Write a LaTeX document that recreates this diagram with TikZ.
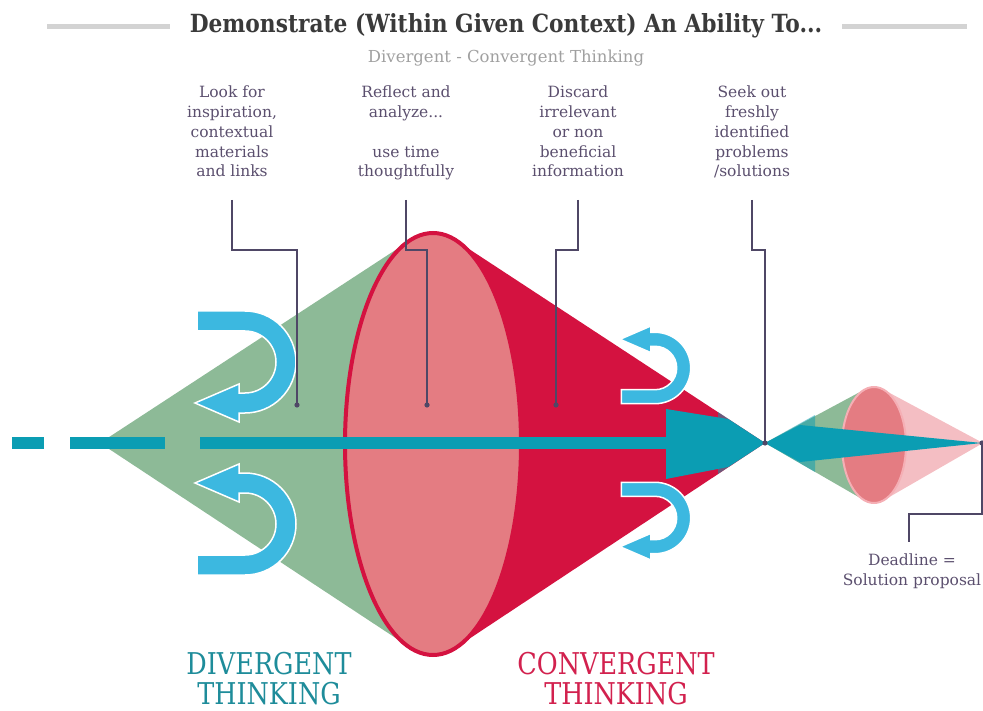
\documentclass[tikz,border=0pt]{standalone}
\usepackage{fontspec}
\setmainfont{DejaVu Serif}
\newfontfamily\narrowslab{DejaVu Serif}[FakeStretch=0.85]
\newfontfamily\headslab{DejaVu Serif}[FakeStretch=0.87]
\usepackage{tikz}
\definecolor{greencone}{HTML}{8DBA97}
\definecolor{salmon}{HTML}{E47C82}
\definecolor{crimson}{HTML}{D41240}
\definecolor{tealc}{HTML}{0B9DB3}
\definecolor{turncol}{HTML}{3CB8E0}
\definecolor{palepink}{HTML}{F4BEC3}
\definecolor{smallrim}{HTML}{F5AFB5}
\definecolor{textcol}{HTML}{5B4F6E}
\definecolor{leadcol}{HTML}{4F4766}
\definecolor{titlecol}{HTML}{3A3A3A}
\definecolor{subcol}{HTML}{A0A0A0}
\definecolor{rulecol}{HTML}{D3D3D3}
\definecolor{divcol}{HTML}{1E8C9A}
\definecolor{convcol}{HTML}{D2214E}
\tikzset{
  leader/.style={draw=leadcol, line width=1.3pt},
  toplabel/.style={font=\fontsize{15.5}{19.75}\selectfont, text=textcol, align=center,
    inner sep=0pt, text depth=23pt, anchor=south},
  bigword/.style={font=\narrowslab\fontsize{30}{30}\selectfont, align=center, inner sep=0pt,
    text depth=0pt, anchor=south},
  axisline/.style={draw=tealc, line width=12pt},
  turnarrow/.style={fill=turncol, draw=white, line width=1.5pt},
  uturn/.pic={
    \path[turnarrow] (-48,-51) -- (0,-51) arc[start angle=-90, end angle=90, radius=51]
      -- (-6,51) -- (-6,60) -- (-50,41) -- (-6,22) -- (-6,31) -- (0,31)
      arc[start angle=90, end angle=-90, radius=31] -- (-48,-31) -- cycle;
  },
}
\begin{document}
\begin{tikzpicture}[x=1pt, y=-1pt]
  \useasboundingbox (0,0) rectangle (983,711);
  %Heading
  \node[font=\headslab\fontsize{25}{28}\selectfont\bfseries, text=titlecol, inner sep=0pt, anchor=base]
    (title) at (506,33) {Demonstrate (Within Given Context) An Ability To...};
  \node[font=\fontsize{16.5}{18}\selectfont, text=subcol, inner sep=0pt, anchor=base]
    (subtitle) at (506,63) {Divergent - Convergent Thinking};
  \draw[rulecol, line width=5pt] ([xshift=-20pt]title.west) -- ++(-123,0);
  \draw[rulecol, line width=5pt] ([xshift=20pt]title.east) -- ++(125,0);
  %Big cone: red part, green part, ellipse
  \coordinate (cross) at (765,443);
  \coordinate (tip) at (982,443);
  \fill[crimson] (456,240.5) -- (cross) -- (456,647.5) -- cycle;
  \fill[greencone] (100,443) -- (410,240.5) -- (410,647.5) -- cycle;
  \filldraw[fill=salmon, draw=crimson, line width=4pt] (433,444) ellipse [x radius=88, y radius=211];
  %Small cone
  \fill[palepink] (883.4,389.6) -- (983,443) -- (883.4,500.4) -- cycle;
  \fill[greencone] (cross) -- (864.6,389.5) -- (864.6,500.5) -- cycle;
  \filldraw[fill=salmon, draw=smallrim, line width=2pt] (874,445) ellipse [x radius=32, y radius=58];
  %Time line
  \draw[axisline] (12,443) -- (44,443);
  \draw[axisline] (70,443) -- (165,443);
  \draw[axisline] (200,443) -- (668,443);
  \fill[tealc, fill opacity=0.5] (718,412) -- (cross) -- (718,474) -- cycle;
  \fill[tealc, fill opacity=0.5] (cross) -- (815,415) -- (815,472) -- cycle;
  \fill[tealc] (666,409) -- (728,419) -- (cross) -- (728,467) -- (666,479) -- cycle;
  \fill[tealc] (cross) -- (800,425) -- (tip) -- (800,462) -- cycle;
  %Turning arrows
  \pic at (245,362) {uturn};
  \pic[yscale=-1] at (245,524) {uturn};
  \pic[yscale=-0.7, xscale=0.7] at (655,368) {uturn};
  \pic[scale=0.7] at (655,518) {uturn};
  %Labels on top
  \node[toplabel] (look) at (232,200) {Look for\\inspiration,\\contextual\\materials\\and links};
  \node[toplabel] (reflect) at (406,200) {Reflect and\\analyze...\\[19.75pt]use time\\thoughtfully};
  \node[toplabel] (discard) at (578,200) {Discard\\irrelevant\\or non\\beneficial\\information};
  \node[toplabel] (seek) at (752,200) {Seek out\\freshly\\identified\\problems\\/solutions};
  \node[font=\fontsize{15.5}{19.75}\selectfont, text=textcol, align=center, inner xsep=0pt,
    inner ysep=12pt, anchor=north] (deadline) at (912,542) {Deadline =\\Solution proposal};
  %Leader lines
  \coordinate (lookDot) at (297,405);
  \coordinate (reflectDot) at (427,405);
  \coordinate (discardDot) at (556,405);
  \draw[leader] (look.south) -- ++(0,50) -| (lookDot);
  \draw[leader] (reflect.south) -- ++(0,50) -| (reflectDot);
  \draw[leader] (discard.south) -- ++(0,50) -| (discardDot);
  \draw[leader] (seek.south) -- ++(0,50) -| (cross);
  \draw[leader] (tip) -- ++(0,71) -| ([xshift=-3pt]deadline.north);
  \foreach \d in {lookDot, reflectDot, discardDot, cross, tip}
    \fill[leadcol] (\d) circle [radius=2.6];
  %Bottom words
  \node[bigword, text=divcol] (divergent) at (269,705) {DIVERGENT\\THINKING};
  \node[bigword, text=convcol] (convergent) at (616,705) {CONVERGENT\\THINKING};
\end{tikzpicture}
\end{document}
